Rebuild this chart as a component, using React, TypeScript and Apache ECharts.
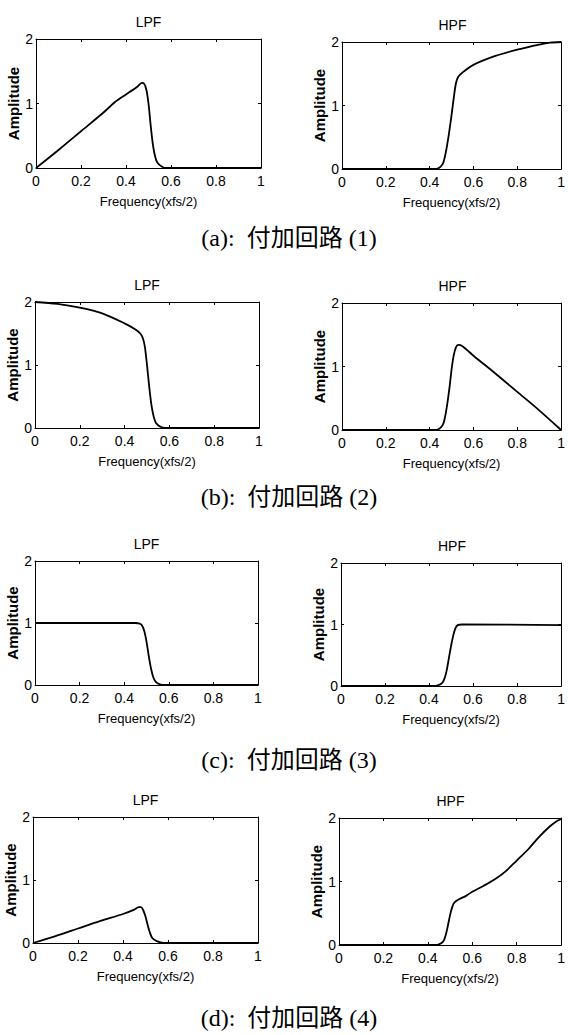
import React, { useEffect, useRef } from "react";
import * as echarts from "echarts";

const xTickLabels = ["0", "0.2", "0.4", "0.6", "0.8", "1"];
const yTickLabels = ["0", "1", "2"];
const panelTitles = ["LPF", "HPF"];
const xAxisTitle = "Frequency(xfs/2)";
const yAxisTitle = "Amplitude";
const captions = ["(a):  付加回路 (1)", "(b):  付加回路 (2)", "(c):  付加回路 (3)", "(d):  付加回路 (4)"];

const lpf1 = [[0, 0], [0.1, 0.28], [0.2, 0.57], [0.3, 0.86], [0.35, 1.02], [0.4, 1.14], [0.45, 1.26], [0.47, 1.32], [0.48, 1.31], [0.49, 1.22], [0.5, 1.0], [0.51, 0.65], [0.52, 0.35], [0.53, 0.17], [0.54, 0.08], [0.56, 0.02], [0.58, 0], [1, 0]];
const hpf1 = [[0, 0], [0.42, 0], [0.44, 0.01], [0.46, 0.08], [0.47, 0.2], [0.48, 0.38], [0.49, 0.6], [0.5, 0.85], [0.51, 1.12], [0.52, 1.35], [0.53, 1.45], [0.55, 1.52], [0.6, 1.64], [0.7, 1.78], [0.8, 1.88], [0.9, 1.96], [0.95, 1.99], [1, 2]];
const lpf2 = [[0, 2], [0.1, 1.97], [0.2, 1.91], [0.3, 1.82], [0.4, 1.66], [0.45, 1.56], [0.47, 1.5], [0.48, 1.44], [0.49, 1.3], [0.5, 1.0], [0.51, 0.65], [0.52, 0.36], [0.53, 0.18], [0.54, 0.08], [0.56, 0.02], [0.58, 0], [1, 0]];
const hpf2 = [[0, 0], [0.42, 0], [0.44, 0.01], [0.46, 0.08], [0.47, 0.2], [0.48, 0.4], [0.49, 0.65], [0.5, 0.95], [0.51, 1.18], [0.52, 1.3], [0.53, 1.34], [0.55, 1.32], [0.6, 1.17], [0.7, 0.89], [0.8, 0.6], [0.9, 0.31], [1, 0]];
const lpf3 = [[0, 1], [0.45, 1], [0.47, 0.99], [0.48, 0.96], [0.49, 0.87], [0.5, 0.7], [0.51, 0.47], [0.52, 0.27], [0.53, 0.13], [0.54, 0.06], [0.56, 0.01], [0.58, 0], [1, 0]];
const hpf3 = [[0, 0], [0.42, 0], [0.44, 0.01], [0.46, 0.05], [0.47, 0.12], [0.48, 0.25], [0.49, 0.45], [0.5, 0.65], [0.51, 0.82], [0.52, 0.94], [0.53, 0.99], [0.55, 1.0], [1, 0.99]];
const lpf4 = [[0, 0], [0.1, 0.11], [0.2, 0.23], [0.3, 0.35], [0.4, 0.46], [0.45, 0.53], [0.47, 0.57], [0.48, 0.57], [0.49, 0.52], [0.5, 0.42], [0.51, 0.28], [0.52, 0.16], [0.53, 0.08], [0.55, 0.03], [0.58, 0], [1, 0]];
const hpf4 = [[0, 0], [0.43, 0], [0.45, 0.01], [0.47, 0.06], [0.48, 0.15], [0.49, 0.3], [0.5, 0.47], [0.51, 0.6], [0.52, 0.67], [0.54, 0.72], [0.57, 0.77], [0.6, 0.84], [0.65, 0.93], [0.7, 1.03], [0.75, 1.16], [0.8, 1.33], [0.85, 1.5], [0.9, 1.7], [0.95, 1.87], [0.98, 1.95], [1, 1.98]];

const seriesData = [lpf1, hpf1, lpf2, hpf2, lpf3, hpf3, lpf4, hpf4];

const layouts = [
  { left: 36, top: 39, width: 225, height: 129 },
  { left: 342, top: 42, width: 221, height: 127 },
  { left: 35, top: 302, width: 224, height: 126 },
  { left: 342, top: 303, width: 221, height: 127 },
  { left: 35, top: 561, width: 223, height: 124 },
  { left: 341, top: 563, width: 222, height: 123 },
  { left: 33, top: 817, width: 225, height: 126 },
  { left: 339, top: 818, width: 223, height: 127 },
];
const captionY = [238, 497, 760, 1018];

const SANS = "'Liberation Sans', Arial, sans-serif";

export default function App() {
  const ref = useRef<HTMLDivElement>(null);
  useEffect(() => {
    if (!ref.current) return;
    const chart = echarts.init(ref.current, undefined, { renderer: "svg" });
    const lineStyle = { color: "#000", width: 1 };
    const tick = { show: true, inside: true, length: 3, lineStyle: { color: "#000", width: 1 } };
    const xAxis: any[] = [];
    const yAxis: any[] = [];
    const grid: any[] = [];
    const series: any[] = [];
    const graphic: any[] = [];
    layouts.forEach((l, i) => {
      grid.push({ left: l.left, top: l.top, width: l.width, height: l.height, containLabel: false });
      xAxis.push({
        type: "value", gridIndex: i, position: "bottom", min: 0, max: 1, interval: 0.2,
        axisLine: { show: true, onZero: false, lineStyle }, axisTick: tick, splitLine: { show: false },
        axisLabel: {
          color: "#000", fontFamily: SANS, fontSize: 14, margin: 6,
          formatter: (v: number) => xTickLabels[Math.round(v / 0.2)] ?? "",
        },
        name: xAxisTitle, nameLocation: "middle", nameGap: 27,
        nameTextStyle: { color: "#000", fontFamily: SANS, fontSize: 13 },
      });
      xAxis.push({
        type: "value", gridIndex: i, position: "top", min: 0, max: 1, interval: 0.2,
        axisLine: { show: true, onZero: false, lineStyle }, axisTick: tick, splitLine: { show: false },
        axisLabel: { show: false },
      });
      yAxis.push({
        type: "value", gridIndex: i, position: "left", min: 0, max: 2, interval: 1,
        axisLine: { show: true, onZero: false, lineStyle }, axisTick: tick, splitLine: { show: false },
        axisLabel: {
          color: "#000", fontFamily: SANS, fontSize: 14, margin: 3,
          formatter: (v: number) => yTickLabels[Math.round(v)] ?? "",
        },
        name: yAxisTitle, nameLocation: "middle", nameGap: 11, nameRotate: 90,
        nameTextStyle: { color: "#000", fontFamily: SANS, fontSize: 15, fontWeight: "bold" },
      });
      yAxis.push({
        type: "value", gridIndex: i, position: "right", min: 0, max: 2, interval: 1,
        axisLine: { show: true, onZero: false, lineStyle }, axisTick: tick, splitLine: { show: false },
        axisLabel: { show: false },
      });
      series.push({
        type: "line", xAxisIndex: 2 * i, yAxisIndex: 2 * i, data: seriesData[i],
        showSymbol: false, smooth: 0.3, lineStyle: { color: "#000", width: 1.8 },
      });
      graphic.push({
        type: "text", x: l.left + l.width / 2, y: l.top - 17,
        style: { text: panelTitles[i % 2], fill: "#000", font: `14px ${SANS}`, textAlign: "center", textVerticalAlign: "middle" },
      });
    });
    captionY.forEach((y, k) => {
      graphic.push({
        type: "text", x: 289, y,
        style: {
          text: captions[k], fill: "#000",
          font: "24px 'Liberation Serif', 'DejaVu Serif', 'Noto Sans CJK JP', serif",
          textAlign: "center", textVerticalAlign: "middle",
        },
      });
    });
    chart.setOption({ animation: false, backgroundColor: "#fff", grid, xAxis, yAxis, series, graphic });
    return () => chart.dispose();
  }, []);
  return <div ref={ref} style={{ position: "fixed", left: 0, top: 0, width: 568, height: 1035 }} />;
}
